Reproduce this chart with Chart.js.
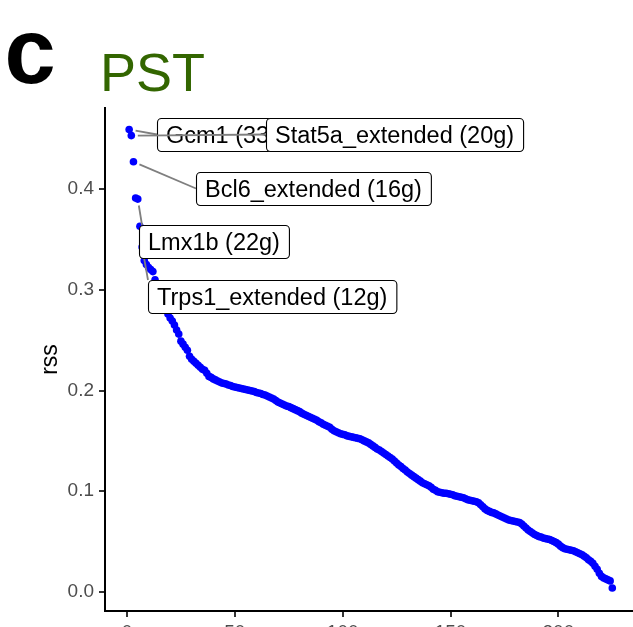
<!DOCTYPE html>
<html>
<head>
<meta charset="utf-8">
<script src="https://cdn.jsdelivr.net/npm/chart.js@4.4.1/dist/chart.umd.min.js"></script>
<style>
  html, body { margin: 0; padding: 0; background: #ffffff; overflow: hidden; }
  #wrap { position: relative; width: 633px; height: 660px; }
</style>
</head>
<body>
<div id="wrap"><canvas id="rssChart" width="633" height="660"></canvas></div>
<script>
// Regulon specificity scores for the PST cell type, sorted from highest to lowest
const rssValues = [
  0.459, 0.453, 0.427, 0.391, 0.390, 0.363, 0.3425, 0.329, 0.325, 0.322,
  0.320, 0.318, 0.310, 0.304, 0.298, 0.292, 0.286, 0.280, 0.276, 0.272,
  0.269, 0.265, 0.260, 0.256, 0.249, 0.246, 0.243, 0.240, 0.234, 0.231,
  0.229, 0.227, 0.225, 0.223, 0.221, 0.220, 0.217, 0.214, 0.213, 0.2115,
  0.2105, 0.2095, 0.2085, 0.2075, 0.207, 0.2065, 0.2055, 0.205, 0.204, 0.2035,
  0.203, 0.2025, 0.202, 0.2015, 0.201, 0.2005, 0.200, 0.1995, 0.199, 0.198,
  0.1975, 0.197, 0.196, 0.1955, 0.1945, 0.1935, 0.1925, 0.1915, 0.190, 0.1885,
  0.1875, 0.1865, 0.1855, 0.1845, 0.184, 0.183, 0.182, 0.181, 0.180, 0.179,
  0.1775, 0.1765, 0.1755, 0.1745, 0.1735, 0.1725, 0.1715, 0.1705, 0.169, 0.168,
  0.1665, 0.1655, 0.1645, 0.1635, 0.1615, 0.160, 0.159, 0.158, 0.157, 0.1565,
  0.156, 0.155, 0.1545, 0.154, 0.1535, 0.153, 0.1525, 0.152, 0.151, 0.150,
  0.149, 0.148, 0.1465, 0.145, 0.1435, 0.142, 0.141, 0.1395, 0.138, 0.1365,
  0.135, 0.1335, 0.132, 0.130, 0.128, 0.126, 0.1245, 0.1225, 0.121, 0.119,
  0.1175, 0.116, 0.1145, 0.113, 0.1115, 0.110, 0.1085, 0.1075, 0.1065, 0.1055,
  0.104, 0.102, 0.101, 0.0995, 0.099, 0.0985, 0.098, 0.098, 0.0975, 0.097,
  0.0965, 0.0955, 0.095, 0.0945, 0.094, 0.0935, 0.0925, 0.0915, 0.091, 0.0905,
  0.090, 0.0895, 0.0885, 0.0865, 0.0845, 0.0825, 0.081, 0.080, 0.079, 0.0785,
  0.0775, 0.0765, 0.0755, 0.0745, 0.0735, 0.0725, 0.0715, 0.071, 0.0705, 0.070,
  0.0695, 0.069, 0.0675, 0.0655, 0.0635, 0.0615, 0.060, 0.0585, 0.057, 0.056,
  0.055, 0.0545, 0.0535, 0.053, 0.0525, 0.052, 0.051, 0.050, 0.049, 0.0475,
  0.0455, 0.044, 0.043, 0.0425, 0.042, 0.0415, 0.041, 0.040, 0.039, 0.038,
  0.037, 0.0355, 0.034, 0.032, 0.0305, 0.0285, 0.0255, 0.0225, 0.0185, 0.0155,
  0.014, 0.013, 0.012, 0.011, 0.004
];
// rank of each regulon (1 = most specific)
const ranks = rssValues.map((_, i) => i + 1);

const xTickValues = [0, 50, 100, 150, 200];
const yTickValues = [0, 0.1, 0.2, 0.3, 0.4];

// highlighted regulons and the rank each one sits at
const labelNames = ['Gcm1 (33g)', 'Stat5a_extended (20g)', 'Bcl6_extended (16g)', 'Trps1_extended (12g)', 'Lmx1b (22g)'];
const labelRanks = [1, 2, 3, 7, 5];

// where the repelled label boxes sit (data units: left edge, vertical centre)
const labelPlacement = [
  { x: 13.9, y: 0.4541, side: 'left' },
  { x: 64.4, y: 0.4541, side: 'left' },
  { x: 32.0, y: 0.4005, side: 'left' },
  { x: 9.7,  y: 0.2933, side: 'top', dx: 0 },
  { x: 5.6,  y: 0.3479, side: 'top', dx: 3 }
];

const FONT = '"Liberation Sans", Arial, Helvetica, sans-serif';

// label boxes with leader segments, drawn on top of the points
const repelLabels = {
  id: 'repelLabels',
  afterDatasetsDraw(chart) {
    const { ctx } = chart;
    const xs = chart.scales.x, ys = chart.scales.y;
    const boxH = 33, padX = 9, pointPad = 6.5;
    ctx.save();
    ctx.font = '23.5px ' + FONT;
    labelNames.forEach((name, i) => {
      const p = labelPlacement[i];
      const r = labelRanks[i];
      const px = xs.getPixelForValue(r);
      const py = ys.getPixelForValue(rssValues[r - 1]);
      const w = ctx.measureText(name).width + 2 * padX;
      const bx = Math.round(xs.getPixelForValue(p.x));
      const by = Math.round(ys.getPixelForValue(p.y) - boxH / 2);
      let ex, ey;
      if (p.side === 'left') { ex = bx; ey = by + boxH / 2; }
      else { ex = bx + (p.dx || 0); ey = by; }
      const dx = ex - px, dy = ey - py, d = Math.hypot(dx, dy);
      ctx.strokeStyle = '#7f7f7f';
      ctx.lineWidth = 1.8;
      ctx.beginPath();
      ctx.moveTo(px + dx / d * pointPad, py + dy / d * pointPad);
      ctx.lineTo(ex, ey);
      ctx.stroke();
      ctx.fillStyle = '#ffffff';
      ctx.strokeStyle = '#000000';
      ctx.lineWidth = 1.1;
      ctx.beginPath();
      ctx.roundRect(bx + 0.5, by + 0.5, w, boxH, 4);
      ctx.fill();
      ctx.stroke();
      ctx.fillStyle = '#000000';
      ctx.textAlign = 'left';
      ctx.textBaseline = 'alphabetic';
      ctx.fillText(name, bx + padX, by + boxH / 2 + 8.5);
    });
    ctx.restore();
  }
};

// panel letter, title and the y axis title
const panelText = {
  id: 'panelText',
  afterDraw(chart) {
    const { ctx, chartArea } = chart;
    ctx.save();
    ctx.textBaseline = 'alphabetic';
    ctx.textAlign = 'left';
    ctx.fillStyle = '#000000';
    ctx.font = 'bold 92px ' + FONT;
    ctx.fillText('c', 4.5, 83);
    ctx.fillStyle = '#336600';
    ctx.font = '54px ' + FONT;
    ctx.fillText('PST', 100, 91);
    ctx.fillStyle = '#000000';
    ctx.font = '23px ' + FONT;
    ctx.translate(57, (chartArea.top + chartArea.bottom) / 2);
    ctx.rotate(-Math.PI / 2);
    ctx.textAlign = 'center';
    ctx.fillText('rss', 0, 0);
    ctx.restore();
  }
};

new Chart(document.getElementById('rssChart'), {
  type: 'scatter',
  data: {
    datasets: [{
      data: ranks.map((r, i) => ({ x: r, y: rssValues[i] })),
      backgroundColor: '#0000ff',
      borderWidth: 0,
      pointRadius: 3.8,
      pointHoverRadius: 3.8
    }]
  },
  options: {
    responsive: false,
    devicePixelRatio: 1,
    animation: false,
    events: [],
    layout: { autoPadding: false, padding: { top: 108, right: 0, bottom: 0, left: 0 } },
    plugins: { legend: { display: false }, tooltip: { enabled: false } },
    scales: {
      x: {
        type: 'linear',
        min: -10.2,
        max: 234.6,
        afterBuildTicks: s => { s.ticks = xTickValues.map(v => ({ value: v })); },
        afterFit: s => { s.height = 49; },
        grid: { drawOnChartArea: false, drawTicks: true, tickLength: 6, tickColor: '#333333', lineWidth: 2, tickWidth: 2 },
        border: { display: true, color: '#000000', width: 2 },
        ticks: { color: '#4d4d4d', font: { family: FONT, size: 19 }, padding: 4, maxRotation: 0, autoSkip: false }
      },
      y: {
        type: 'linear',
        min: -0.01886,
        max: 0.4804,
        afterBuildTicks: s => { s.ticks = yTickValues.map(v => ({ value: v })); },
        afterFit: s => { s.width = 105; },
        grid: { drawOnChartArea: false, drawTicks: true, tickLength: 6, tickColor: '#333333', lineWidth: 2, tickWidth: 2 },
        border: { display: true, color: '#000000', width: 2 },
        ticks: { color: '#4d4d4d', font: { family: FONT, size: 19 }, padding: 5, callback: v => v.toFixed(1) }
      }
    }
  },
  plugins: [repelLabels, panelText]
});
</script>
</body>
</html>
